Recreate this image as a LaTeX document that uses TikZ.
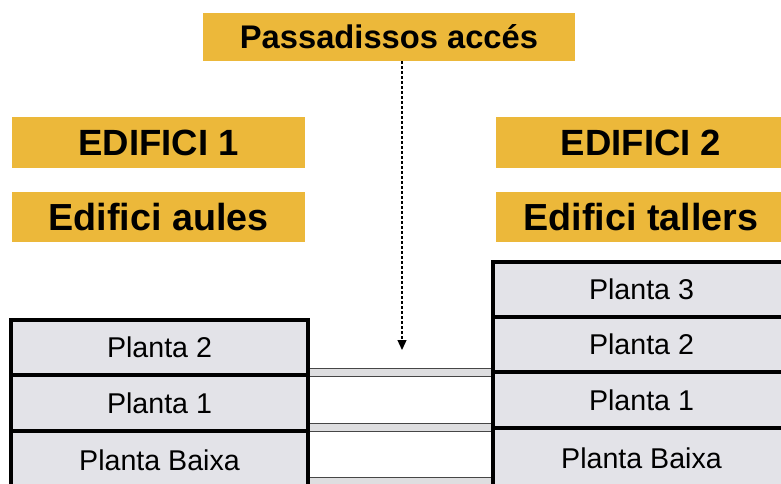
\documentclass[tikz,border=0pt]{standalone}
\usepackage{fontspec}
\setmainfont{Liberation Sans}
\usetikzlibrary{arrows.meta}
\definecolor{gold}{RGB}{236,184,58}
\definecolor{floorgray}{RGB}{227,227,232}
\definecolor{bridgegray}{RGB}{222,222,224}
\definecolor{bridgeline}{RGB}{70,70,70}
\begin{document}
\begin{tikzpicture}[x=1pt,y=-1pt,
  tag/.style={fill=gold, inner sep=0pt, text depth=0pt},
  floorbox/.style={draw=black, fill=floorgray, line width=3.2pt, inner sep=0pt,
    minimum width=297pt, text height=20.5pt, text depth=0pt,
    font=\fontsize{28.6}{30}\selectfont},
  bridge/.style={draw=bridgeline, fill=bridgegray, line width=1.6pt},
  arrowline/.style={line width=1.3pt, dash pattern=on 3pt off 2pt,
    -{Triangle[width=9pt,length=10pt]}}]
\useasboundingbox (0,0) rectangle (781,484);
\fill[white] (0,0) rectangle (781,484);

% bridges between buildings
\draw[bridge] (300,368.5) rectangle (500,376.5);
\draw[bridge] (300,423.5) rectangle (500,431.5);
\draw[bridge] (300,477.5) rectangle (500,485.5);

% Edifici 1 floors
\node[floorbox, minimum height=55pt] (l2) at (159.5,347.5) {Planta 2};
\node[floorbox, minimum height=56pt] (l1) at (159.5,403) {Planta 1};
\node[floorbox, minimum height=59pt] (l0) at (159.5,460.5) {Planta Baixa};

% Edifici 2 floors
\node[floorbox, minimum height=55pt] (r3) at (641.5,289.5) {Planta 3};
\node[floorbox, minimum height=55pt] (r2) at (641.5,344.5) {Planta 2};
\node[floorbox, minimum height=56pt] (r1) at (641.5,400) {Planta 1};
\node[floorbox, minimum height=61pt] (r0) at (641.5,458.5) {Planta Baixa};

% labels
\node[tag, minimum width=372pt, minimum height=48pt, text height=23.4pt,
  font=\bfseries\fontsize{32.7}{34}\selectfont] (pass) at (389,37) {Passadissos accés};
\node[tag, minimum width=293pt, minimum height=51pt, text height=26.1pt,
  font=\bfseries\fontsize{36.5}{38}\selectfont] (e1) at (158.5,142.5) {EDIFICI 1};
\node[tag, minimum width=293pt, minimum height=50pt, text height=27pt,
  font=\bfseries\fontsize{37.7}{40}\selectfont] (e1b) at (158.5,217) {Edifici aules};
\node[tag, minimum width=290pt, minimum height=51pt, text height=26.1pt,
  font=\bfseries\fontsize{36.5}{38}\selectfont] (e2) at (641,142.5) {EDIFICI 2};
\node[tag, minimum width=290pt, minimum height=50pt, text height=27pt,
  font=\bfseries\fontsize{37.7}{40}\selectfont] (e2b) at (641,217) {Edifici tallers};

% access arrow
\coordinate (tip) at (402,350);
\draw[arrowline] (pass.south -| tip) -- (tip);
\end{tikzpicture}
\end{document}
